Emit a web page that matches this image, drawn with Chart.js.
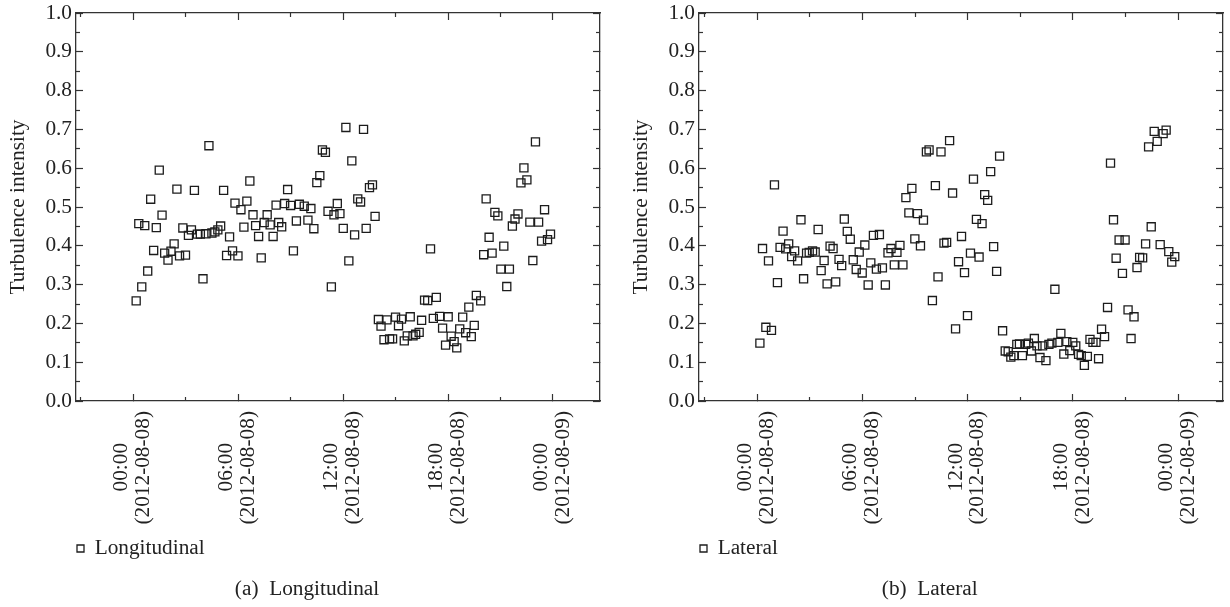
<!DOCTYPE html>
<html>
<head>
<meta charset="utf-8">
<title>Turbulence intensity</title>
<script src="https://cdn.jsdelivr.net/npm/chart.js@4.4.0/dist/chart.umd.min.js"></script>
<style>
  html, body { margin: 0; padding: 0; background: #fff; }
  #wrap { position: relative; width: 1230px; height: 607px; overflow: hidden; }
  canvas { position: absolute; top: 0; }
  #lonChart { left: 0; }
  #latChart { left: 623px; }
</style>
</head>
<body>
<div id="wrap">
  <canvas id="lonChart" width="607" height="607"></canvas>
  <canvas id="latChart" width="607" height="607"></canvas>
</div>
<script>
// hours since 00:00 on 2012-08-08, 10 min records
const lonHours = [
  0.17, 0.32, 0.49, 0.66, 0.83, 1.00, 1.17, 1.32, 1.49, 1.65, 1.80, 1.99, 2.16, 2.34, 2.50, 2.65,
  2.84, 2.99, 3.16, 3.33, 3.50, 3.67, 3.84, 3.99, 4.16, 4.33, 4.50, 4.67, 4.84, 5.00, 5.17, 5.34,
  5.51, 5.68, 5.82, 5.99, 6.16, 6.33, 6.50, 6.67, 6.85, 7.00, 7.17, 7.32, 7.49, 7.66, 7.83, 8.00,
  8.17, 8.32, 8.49, 8.66, 8.83, 9.00, 9.16, 9.33, 9.50, 9.78, 9.99, 10.16, 10.33, 10.50, 10.67, 10.82,
  10.99, 11.14, 11.33, 11.48, 11.67, 11.82, 12.01, 12.16, 12.33, 12.50, 12.66, 12.84, 13.00, 13.17, 13.32, 13.51,
  13.68, 13.83, 14.02, 14.17, 14.34, 14.51, 14.66, 14.83, 15.00, 15.17, 15.34, 15.50, 15.67, 15.84, 16.00, 16.15,
  16.35, 16.49, 16.66, 16.84, 17.00, 17.16, 17.33, 17.52, 17.69, 17.86, 18.01, 18.18, 18.35, 18.50, 18.67, 18.84,
  19.01, 19.19, 19.33, 19.50, 19.62, 19.87, 20.04, 20.18, 20.35, 20.52, 20.68, 20.85, 21.02, 21.19, 21.36, 21.51,
  21.68, 21.83, 22.00, 22.17, 22.34, 22.51, 22.68, 22.85, 23.00, 23.18, 23.35, 23.52, 23.69, 23.86
];
const lonValues = [
  0.258, 0.457, 0.294, 0.452, 0.335, 0.520, 0.388, 0.447, 0.595, 0.479, 0.381, 0.363, 0.386, 0.405, 0.546, 0.374,
  0.446, 0.376, 0.427, 0.441, 0.543, 0.430, 0.430, 0.315, 0.431, 0.658, 0.433, 0.436, 0.441, 0.451, 0.543, 0.375,
  0.423, 0.387, 0.510, 0.374, 0.493, 0.448, 0.515, 0.567, 0.480, 0.452, 0.424, 0.369, 0.460, 0.480, 0.454, 0.424,
  0.505, 0.460, 0.449, 0.509, 0.545, 0.504, 0.387, 0.464, 0.507, 0.502, 0.466, 0.496, 0.444, 0.563, 0.581, 0.647,
  0.641, 0.489, 0.294, 0.480, 0.509, 0.483, 0.445, 0.705, 0.361, 0.619, 0.428, 0.521, 0.513, 0.700, 0.445, 0.550,
  0.557, 0.476, 0.210, 0.193, 0.158, 0.209, 0.160, 0.160, 0.216, 0.194, 0.211, 0.155, 0.168, 0.217, 0.168, 0.172,
  0.177, 0.208, 0.260, 0.259, 0.392, 0.213, 0.267, 0.218, 0.188, 0.144, 0.217, 0.167, 0.153, 0.137, 0.186, 0.216,
  0.176, 0.242, 0.166, 0.195, 0.272, 0.258, 0.377, 0.521, 0.422, 0.381, 0.486, 0.477, 0.340, 0.399, 0.295, 0.340,
  0.451, 0.469, 0.482, 0.562, 0.601, 0.570, 0.461, 0.362, 0.668, 0.461, 0.412, 0.493, 0.416, 0.430
];

const latHours = [
  0.16, 0.31, 0.50, 0.65, 0.82, 0.99, 1.16, 1.31, 1.48, 1.63, 1.80, 1.97, 2.14, 2.31, 2.50, 2.65,
  2.82, 2.97, 3.16, 3.31, 3.48, 3.65, 3.82, 3.99, 4.16, 4.33, 4.48, 4.67, 4.82, 4.97, 5.14, 5.31,
  5.48, 5.65, 5.82, 5.99, 6.14, 6.33, 6.48, 6.63, 6.80, 6.97, 7.14, 7.31, 7.46, 7.63, 7.82, 7.97,
  8.14, 8.31, 8.48, 8.65, 8.82, 8.99, 9.14, 9.31, 9.48, 9.65, 9.80, 9.99, 10.16, 10.31, 10.48, 10.65,
  10.80, 10.97, 11.14, 11.31, 11.48, 11.65, 11.82, 11.99, 12.16, 12.33, 12.50, 12.65, 12.82, 12.97, 13.14, 13.31,
  13.48, 13.65, 13.82, 13.99, 14.14, 14.31, 14.46, 14.63, 14.80, 14.95, 15.12, 15.31, 15.46, 15.63, 15.80, 15.95,
  16.12, 16.27, 16.46, 16.63, 16.80, 16.97, 17.14, 17.31, 17.48, 17.65, 17.82, 17.99, 18.16, 18.32, 18.47, 18.65,
  18.82, 18.97, 19.14, 19.31, 19.46, 19.63, 19.80, 19.97, 20.14, 20.31, 20.46, 20.63, 20.82, 20.97, 21.14, 21.31,
  21.48, 21.65, 21.80, 21.97, 22.14, 22.31, 22.46, 22.63, 22.80, 22.97, 23.14, 23.31, 23.46, 23.63, 23.80
];
const latValues = [
  0.149, 0.393, 0.190, 0.361, 0.182, 0.557, 0.305, 0.396, 0.438, 0.392, 0.405, 0.372, 0.387, 0.361, 0.467, 0.315,
  0.381, 0.383, 0.387, 0.384, 0.442, 0.336, 0.362, 0.302, 0.399, 0.393, 0.307, 0.365, 0.349, 0.469, 0.437, 0.417,
  0.364, 0.339, 0.384, 0.330, 0.402, 0.299, 0.356, 0.427, 0.340, 0.429, 0.343, 0.299, 0.382, 0.393, 0.351, 0.383,
  0.401, 0.351, 0.524, 0.485, 0.548, 0.418, 0.483, 0.400, 0.466, 0.642, 0.647, 0.259, 0.555, 0.320, 0.642, 0.407,
  0.409, 0.671, 0.536, 0.186, 0.359, 0.424, 0.331, 0.220, 0.381, 0.572, 0.468, 0.371, 0.457, 0.532, 0.517, 0.591,
  0.398, 0.334, 0.631, 0.181, 0.129, 0.127, 0.113, 0.117, 0.146, 0.147, 0.117, 0.146, 0.149, 0.129, 0.161, 0.142,
  0.112, 0.142, 0.104, 0.146, 0.149, 0.288, 0.151, 0.174, 0.121, 0.153, 0.130, 0.151, 0.142, 0.120, 0.117, 0.092,
  0.115, 0.159, 0.151, 0.151, 0.109, 0.185, 0.166, 0.241, 0.613, 0.467, 0.368, 0.415, 0.329, 0.415, 0.235, 0.161,
  0.217, 0.344, 0.370, 0.369, 0.405, 0.655, 0.449, 0.695, 0.669, 0.403, 0.689, 0.698, 0.385, 0.358, 0.372
];

// time axis
const tickHours = [0, 6, 12, 18, 24];
const tickTimes = ['00:00', '06:00', '12:00', '18:00', '00:00'];
const tickDates = ['(2012-08-08)', '(2012-08-08)', '(2012-08-08)', '(2012-08-08)', '(2012-08-09)'];
const minorHours = [-3, 3, 9, 15, 21];

// value axis
const yTicks = [0, 0.1, 0.2, 0.3, 0.4, 0.5, 0.6, 0.7, 0.8, 0.9, 1.0];
const yMinorTicks = [0.05, 0.15, 0.25, 0.35, 0.45, 0.55, 0.65, 0.75, 0.85, 0.95];

const FONT = '"Liberation Serif", "DejaVu Serif", "Times New Roman", serif';
const TEXT_SIZE = 21.3;
const INK = '#222';
const AXIS = '#333';

function fixedTicks(values) {
  return scale => { scale.ticks = values.map(v => ({ value: v })); };
}

function fixedSize(size) {
  return scale => {
    if (scale.isHorizontal()) scale.height = size; else scale.width = size;
    scale.paddingLeft = scale.paddingRight = scale.paddingTop = scale.paddingBottom = 0;
  };
}

// tick-only axis used for minor ticks and the mirrored top/right frame
function markAxis(axis, position, values, tickLen, weight, range, withBorder) {
  return {
    type: 'linear', axis, position, weight,
    min: range[0], max: range[1],
    afterBuildTicks: fixedTicks(values),
    afterFit: fixedSize(0),
    ticks: { display: false },
    grid: { drawOnChartArea: false, drawTicks: true, tickLength: -tickLen, tickColor: AXIS, tickWidth: 1.2 },
    border: { display: withBorder, color: AXIS, width: 1.3 }
  };
}

function buildChart(canvas, hours, values, cfg) {
  const points = hours.map((h, i) => ({ x: h, y: values[i] }));
  const xRange = cfg.xRange;
  const yRange = [0, 1];

  return new Chart(canvas, {
    type: 'scatter',
    data: {
      datasets: [{
        label: cfg.label,
        data: points,
        pointStyle: 'rect',
        pointRadius: 5.7,
        pointBorderWidth: 1.3,
        borderColor: '#1c1c1c',
        backgroundColor: 'rgba(255,255,255,0)',
        pointHoverRadius: 5.7
      }]
    },
    options: {
      responsive: false,
      maintainAspectRatio: false,
      animation: false,
      events: [],
      layout: { padding: { left: 10, right: cfg.padRight, top: 13, bottom: 0 } },
      scales: {
        x: {
          type: 'linear', position: 'bottom', weight: 0,
          min: xRange[0], max: xRange[1],
          afterBuildTicks: fixedTicks(tickHours),
          afterFit: fixedSize(135.85),
          ticks: {
            autoSkip: false,
            minRotation: 90, maxRotation: 90,
            padding: 17,
            labelOffset: -11.5,
            color: INK,
            font: { family: FONT, size: TEXT_SIZE, lineHeight: 1.01 },
            callback: (value) => {
              const i = tickHours.indexOf(value);
              // trailing spaces keep the time line centred on the date line
              return i < 0 ? '' : [tickTimes[i] + '      ', tickDates[i]];
            }
          },
          grid: { drawOnChartArea: false, drawTicks: true, tickLength: -7, tickColor: AXIS, tickWidth: 1.2 },
          border: { display: true, color: AXIS, width: 1.3 }
        },
        xMinor: markAxis('x', 'bottom', minorHours, 4, -1, xRange, false),
        xTop: markAxis('x', 'top', tickHours, 7, 0, xRange, true),
        xTopMinor: markAxis('x', 'top', minorHours, 4, -1, xRange, false),
        y: {
          type: 'linear', position: 'left', weight: 0,
          min: 0, max: 1,
          afterBuildTicks: fixedTicks(yTicks),
          afterFit: fixedSize(66),
          ticks: {
            padding: 11,
            color: INK,
            font: { family: FONT, size: TEXT_SIZE },
            callback: (value) => value.toFixed(1)
          },
          title: {
            display: true,
            text: 'Turbulence intensity',
            color: INK,
            font: { family: FONT, size: TEXT_SIZE },
            padding: { top: -4.5, bottom: 0 }
          },
          grid: { drawOnChartArea: false, drawTicks: true, tickLength: -7, tickColor: AXIS, tickWidth: 1.2 },
          border: { display: true, color: AXIS, width: 1.3 }
        },
        yMinor: markAxis('y', 'left', yMinorTicks, 4, -1, yRange, false),
        yRight: markAxis('y', 'right', yTicks, 7, 0, yRange, true),
        yRightMinor: markAxis('y', 'right', yMinorTicks, 4, 1, yRange, false)
      },
      plugins: {
        tooltip: { enabled: false },
        legend: {
          position: 'bottom',
          align: 'start',
          fullSize: false,
          labels: {
            usePointStyle: true,
            boxWidth: 7,
            boxHeight: 7,
            padding: 1,
            color: INK,
            font: { family: FONT, size: TEXT_SIZE }
          }
        },
        title: {
          display: true,
          position: 'bottom',
          text: cfg.caption,
          color: INK,
          font: { family: FONT, size: TEXT_SIZE, weight: 'normal' },
          padding: { top: 7.07, bottom: 5.22 }
        }
      }
    }
  });
}

buildChart(document.getElementById('lonChart'), lonHours, lonValues, {
  label: 'Longitudinal',
  caption: '(a)  Longitudinal',
  xRange: [-3.27, 26.69],
  padRight: 3
});

buildChart(document.getElementById('latChart'), latHours, latValues, {
  label: 'Lateral',
  caption: '(b)  Lateral',
  xRange: [-3.31, 26.55],
  padRight: 3.5
});
</script>
</body>
</html>
